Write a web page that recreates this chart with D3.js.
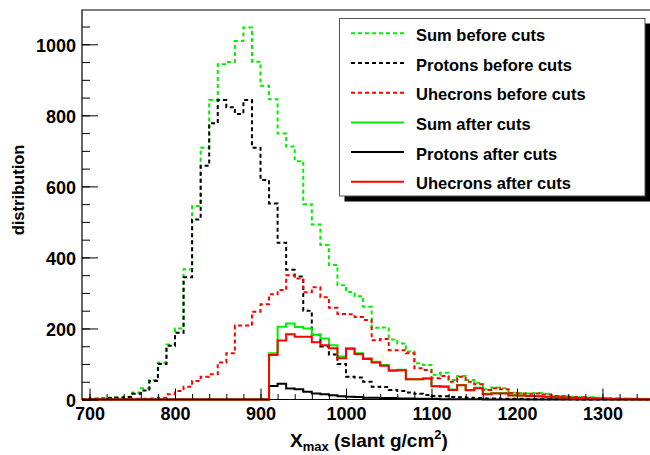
<!DOCTYPE html>
<html><head><meta charset="utf-8">
<script src="https://cdn.jsdelivr.net/npm/d3@7"></script>
<style>
html,body{margin:0;padding:0;background:#fff;}
svg{display:block;}
text{font-family:"Liberation Sans",Arial,Helvetica,sans-serif;font-weight:bold;fill:#000;}
</style></head>
<body>
<svg id="c" width="650" height="455"></svg>
<script>
// ---- data (bin left edges, width 10) ----
const binEdges = d3.range(690, 1360, 10);
const sumBefore = [1,2,3,5,6,8,20,32,55,104,155,200,367,545,709,843,944,950,1009,1047,951,883,845,749,712,671,550,493,435,379,322,303,291,261,202,203,169,158,135,102,97,70,75,55,66,55,47,29,34,32,19,18,17,18,16,10,10,8,6,6,5,4,3,3,2,2,1];
const protonsBefore = [1,2,3,4,5,7,16,25,52,100,151,188,344,507,658,778,843,823,804,843,709,618,552,441,365,346,250,182,149,127,100,64,62,50,36,35,27,24,20,16,13,10,9,7,6,5,4,3,3,2,2,2,1,1,1,1,1,1,0,0,0,0,0,0,0,0,0];
const uhecronsBefore = [0,0,0,1,1,1,2,2,3,5,15,24,36,52,64,71,104,130,208,208,247,268,296,308,350,341,302,316,288,258,241,240,232,224,167,170,139,139,130,88,83,60,66,50,64,50,43,27,32,29,18,17,16,17,14,10,9,7,6,5,4,3,3,2,2,1,1];
const sumAfter = [0,0,0,0,0,0,0,0,0,0,0,0,0,0,0,0,0,0,0,0,0,0,130,205,214,204,200,182,172,153,121,144,130,116,106,97,83,84,57,57,59,38,37,28,41,27,33,16,18,18,12,11,10,9,8,6,5,4,4,3,2,2,1,1,1,1,0];
const protonsAfter = [0,0,0,0,0,0,0,0,0,0,0,0,0,0,0,0,0,0,0,0,0,0,38,44,31,29,22,17,15,12,9,8,7,5,5,4,4,3,3,2,2,2,1,1,1,1,1,0,0,0,0,0,0,0,0,0,0,0,0,0,0,0,0,0,0,0,0];
const uhecronsAfter = [0,0,0,0,0,0,0,0,0,0,0,0,0,0,0,0,0,0,0,0,0,0,125,166,184,177,177,161,153,144,116,143,128,114,104,95,81,82,57,57,59,37,36,27,40,26,32,15,17,17,11,11,10,9,8,6,5,4,4,3,2,2,1,1,1,1,0];
const xMajorTicks = [700,800,900,1000,1100,1200,1300];
const yMajorTicks = [0,200,400,600,800,1000];
const seriesNames = ["Sum before cuts","Protons before cuts","Uhecrons before cuts","Sum after cuts","Protons after cuts","Uhecrons after cuts"];
const seriesData = [sumBefore, protonsBefore, uhecronsBefore, sumAfter, protonsAfter, uhecronsAfter];
const seriesColors = ["#00ee00","#000000","#ff0000","#00ee00","#000000","#ff0000"];
const seriesDashed = [true,true,true,false,false,false];

const svg = d3.select("#c");
const L = 82, T = 10, R = 650, B = 399.5;
const x = d3.scaleLinear().domain([691.2, 1355.6]).range([L, R]);
const y = d3.scaleLinear().domain([0, 1097]).range([B, 9.85]);

svg.append("defs").append("clipPath").attr("id","pc")
  .append("rect").attr("x",L).attr("y",T-2).attr("width",R-L+10).attr("height",B-T+4);

const g = svg.append("g").attr("clip-path","url(#pc)");
const line = d3.line().x(d=>x(d[0])).y(d=>y(d[1])).curve(d3.curveStepAfter);
seriesData.forEach((vals,i)=>{
  const pts = binEdges.map((e,k)=>[e, vals[k]]);
  pts.push([binEdges[binEdges.length-1]+10, vals[vals.length-1]]);
  g.append("path").attr("d", line(pts)).attr("fill","none")
    .attr("stroke", seriesColors[i]).attr("stroke-width", 2)
    .attr("stroke-dasharray", seriesDashed[i] ? "4,3" : null);
});

// axes
const xMinor = d3.range(700, 1360, 20);
svg.append("g").attr("transform",`translate(0,${B})`)
  .call(d3.axisBottom(x).tickValues(xMinor).tickSizeInner(-5.5).tickSizeOuter(0).tickFormat(""))
  .call(a=>{a.select(".domain").remove(); a.selectAll("line").attr("stroke","#000");});
svg.append("g").attr("transform",`translate(0,${B})`)
  .call(d3.axisBottom(x).tickValues(xMajorTicks).tickSizeInner(-11).tickSizeOuter(0).tickPadding(8).tickFormat(d3.format("d")))
  .call(a=>{a.select(".domain").remove(); a.selectAll("line").attr("stroke","#000");
    a.selectAll("text").attr("font-size",18).attr("font-family",null).style("font-weight","bold");});
const yMinor = d3.range(0, 1100, 50);
svg.append("g").attr("transform",`translate(${L},0)`)
  .call(d3.axisLeft(y).tickValues(yMinor).tickSizeInner(-8).tickSizeOuter(0).tickFormat(""))
  .call(a=>{a.select(".domain").remove(); a.selectAll("line").attr("stroke","#000");});
svg.append("g").attr("transform",`translate(${L},0)`)
  .call(d3.axisLeft(y).tickValues(yMajorTicks).tickSizeInner(-16).tickSizeOuter(0).tickPadding(6).tickFormat(d3.format("d")))
  .call(a=>{a.select(".domain").remove(); a.selectAll("line").attr("stroke","#000");
    a.selectAll("text").attr("font-size",18).attr("font-family",null).attr("dy","0.4em");});

// frame
svg.append("path").attr("d",`M${R+5},${T}H${L}V${B}H${R+5}`).attr("fill","none").attr("stroke","#000").attr("stroke-width",1.2);

// titles
const xt = svg.append("text").attr("x",290).attr("y",447).attr("font-size",19);
xt.append("tspan").text("X");
xt.append("tspan").attr("font-size",13).attr("dy",4).text("max");
xt.append("tspan").attr("dy",-4).text(" (slant g/cm");
xt.append("tspan").attr("font-size",13).attr("dy",-8).text("2");
xt.append("tspan").attr("dy",8).text(")");
svg.append("text").attr("transform","translate(24,190) rotate(-90)").attr("text-anchor","middle")
  .attr("font-size",16.5).text("distribution");

// legend
const lg = svg.append("g");
lg.append("rect").attr("x",344.5).attr("y",23.5).attr("width",306).attr("height",178).attr("fill","#000");
lg.append("rect").attr("x",339.5).attr("y",18.5).attr("width",305.5).attr("height",177.5).attr("fill","#fff").attr("stroke","#555").attr("stroke-width",1);
seriesNames.forEach((n,i)=>{
  const yy = 33.3 + i*29.7;
  lg.append("line").attr("x1",351).attr("x2",404).attr("y1",yy).attr("y2",yy)
    .attr("stroke",seriesColors[i]).attr("stroke-width",2).attr("stroke-dasharray",seriesDashed[i]?"4,3":null);
  lg.append("text").attr("x",416).attr("y",yy+7.6).attr("font-size",16.5).text(n);
});
</script>
</body></html>
